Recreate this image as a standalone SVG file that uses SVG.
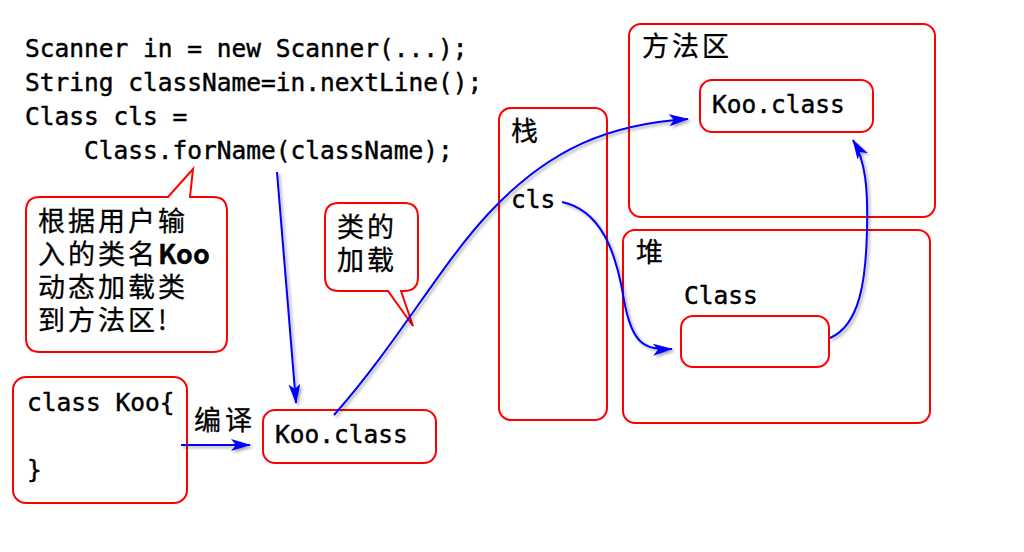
<svg xmlns="http://www.w3.org/2000/svg" width="1024" height="552" viewBox="0 0 1024 552">
<style>
.code{font-family:"DejaVu Sans Mono","Liberation Mono",monospace;font-size:24.5px;fill:#000;stroke:#000;stroke-width:0.45px}
.zh{font-family:"Noto Sans CJK SC","Noto Sans",sans-serif;font-size:27px;fill:#000;letter-spacing:3px;stroke:#000;stroke-width:0.3px}
.lat{letter-spacing:0px}
.box{fill:#fff;stroke:#ff0000;stroke-width:2}
.conn{fill:none;stroke:#0000ff;stroke-width:2;filter:url(#sh)}
</style>
<defs>
<filter id="sh" filterUnits="userSpaceOnUse" x="0" y="0" width="1024" height="552">
<feDropShadow dx="2" dy="2" stdDeviation="1.5" flood-color="#000" flood-opacity="0.35"/>
</filter>
<marker id="ah" markerUnits="userSpaceOnUse" markerWidth="22" markerHeight="14" refX="19" refY="6" orient="auto">
<path d="M0,0 L20,6 L0,12 L5,6 Z" fill="#0000ff"/>
</marker>
</defs>
<rect width="1024" height="552" fill="#fff"/>

<g id="code">
<text class="code" x="25" y="57">Scanner in = new Scanner(...);</text>
<text class="code" x="25" y="91">String className=in.nextLine();</text>
<text class="code" x="25" y="125">Class cls =</text>
<text class="code" x="25" y="159" xml:space="preserve">    Class.forName(className);</text>
</g>

<g id="callout1">
<path class="box" d="M40,197 L168,197 L193,169 L190,197 L213,197 Q227,197 227,211 L227,338 Q227,352 213,352 L40,352 Q26,352 26,338 L26,211 Q26,197 40,197 Z"/>
<text class="zh" x="38" y="231">根据用户输</text>
<text class="zh" x="38" y="264">入的类名<tspan class="lat" font-weight="bold">Koo</tspan></text>
<text class="zh" x="38" y="297">动态加载类</text>
<text class="zh" x="38" y="330">到方法区!</text>
</g>

<g id="callout2">
<path class="box" d="M339,203 L404,203 Q418,203 418,217 L418,277 Q418,291 404,291 L401,291 L413,326 L388,291 L339,291 Q325,291 325,277 L325,217 Q325,203 339,203 Z"/>
<text class="zh" x="337" y="237">类的</text>
<text class="zh" x="337" y="270">加载</text>
</g>

<g id="source">
<rect class="box" x="13" y="377" width="174" height="126" rx="13"/>
<text class="code" x="27" y="411">class Koo{</text>
<text class="code" x="27" y="478">}</text>
</g>

<g id="compile-label">
<text class="zh" x="194" y="430" style="letter-spacing:4px">编译</text>
</g>

<g id="koo-class-file">
<rect class="box" x="263" y="410" width="173" height="53" rx="12"/>
<text class="code" x="275" y="443">Koo.class</text>
</g>

<g id="stack">
<rect class="box" x="499" y="108" width="108" height="312" rx="12"/>
<text class="zh" x="511" y="141">栈</text>
<text class="code" x="511" y="208">cls</text>
</g>

<g id="method-area">
<rect class="box" x="629" y="24" width="306" height="193" rx="12"/>
<text class="zh" x="642" y="56">方法区</text>
<rect class="box" x="700" y="80" width="173" height="52" rx="12"/>
<text class="code" x="712" y="113">Koo.class</text>
</g>

<g id="heap">
<rect class="box" x="623" y="230" width="307" height="193" rx="12"/>
<text class="zh" x="636" y="262">堆</text>
<text class="code" x="684" y="304">Class</text>
<rect class="box" x="681" y="316" width="148" height="51" rx="12"/>
</g>

<g id="connectors">
<path class="conn" d="M181,445 L250,445" marker-end="url(#ah)"/>
<path class="conn" d="M277,172 L296,403" marker-end="url(#ah)"/>
<path class="conn" d="M334,415 C400,340 440,265 490,212 C550,148 610,124 688,119" marker-end="url(#ah)"/>
<path class="conn" d="M562,202 C600,210 616,250 624,300 C632,345 645,350 672,349" marker-end="url(#ah)"/>
<path class="conn" d="M830,338 C860,325 866,280 867,230 C868,190 866,162 853,140" marker-end="url(#ah)"/>
</g>
</svg>
